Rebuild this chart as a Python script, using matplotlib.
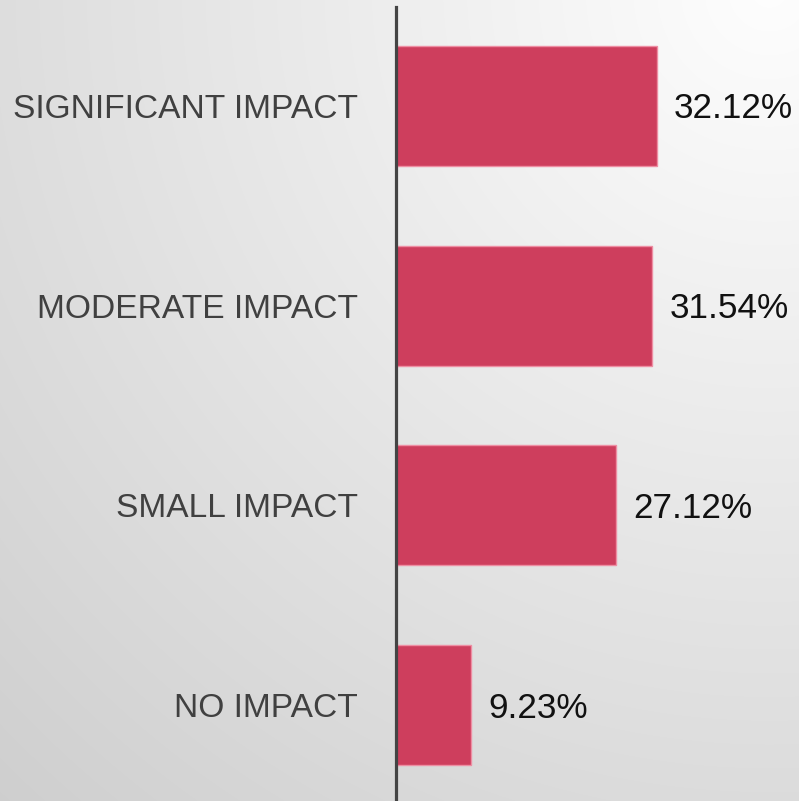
import numpy as np
import matplotlib
matplotlib.use("Agg")
import matplotlib.pyplot as plt

categories = ["SIGNIFICANT IMPACT", "MODERATE IMPACT", "SMALL IMPACT", "NO IMPACT"]
values = [32.12, 31.54, 27.12, 9.23]
value_labels = ["32.12%", "31.54%", "27.12%", "9.23%"]

W, H = 799, 801
fig = plt.figure(figsize=(W / 100, H / 100), dpi=100)

# background radial gradient (light at top-right)
bg = fig.add_axes([0, 0, 1, 1])
yy, xx = np.mgrid[0:H, 0:W]
d = np.hypot(xx - (W - 30), yy + 10)
v = np.clip(0.995 - 0.000165 * d, 0, 1)
img = np.dstack([v, v, v])
bg.imshow(img, extent=[0, W, H, 0], aspect="auto", interpolation="bilinear")
bg.set_xlim(0, W)
bg.set_ylim(H, 0)
bg.axis("off")

# main axes: spans from axis line to right edge, full height
left_px = 396
px_per_unit = 8.126
ax = fig.add_axes([left_px / W, 0, (W - left_px) / W, 1])
ax.patch.set_alpha(0)
spacing = 199.67
top_c = 106
ax.set_ylim(3 + (H - (top_c + 3 * spacing)) / spacing, -top_c / spacing)
ax.set_xlim(0, (W - left_px) / px_per_unit)

ypos = np.arange(len(categories))
ax.barh(ypos, values, height=0.6, color="#ce3e5d", edgecolor="#ee8ea3", linewidth=1.0, zorder=2)

for y, val, lab in zip(ypos, values, value_labels):
    ax.annotate(lab, xy=(val, y), xytext=(17, -3), textcoords="offset pixels",
                ha="left", va="center", fontsize=25.3, family="Liberation Sans",
                color="#111111")

ax.set_yticks(ypos)
ax.set_yticklabels(categories, fontsize=24.1, family="Liberation Sans", color="#404040")
ax.tick_params(axis="y", length=0, pad=38 * 72 / 100)
ax.set_xticks([])
for s in ax.spines.values():
    s.set_visible(False)
ax.axvline(0, ymin=0, ymax=1 - 7 / H, color="#444444", linewidth=2.3, zorder=3,
           clip_on=False)

fig.savefig("out.png", dpi=100)
